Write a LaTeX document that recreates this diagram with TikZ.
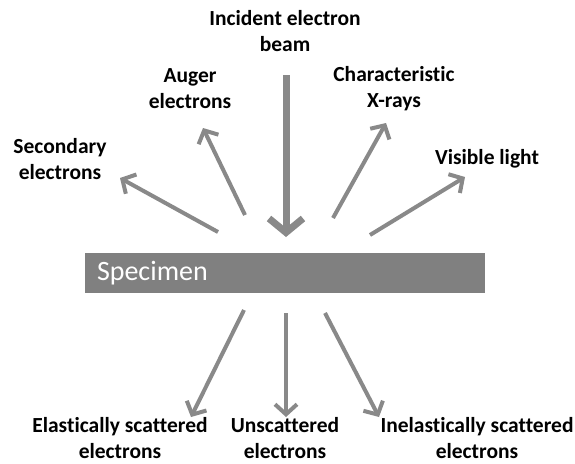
\documentclass[tikz,border=0pt]{standalone}
\usepackage{fontspec}
\setmainfont{Carlito}[Ligatures=NoCommon]
\usetikzlibrary{arrows.meta}
\definecolor{raygray}{RGB}{137,137,137}
\definecolor{specgray}{RGB}{128,128,128}

\begin{document}
\begin{tikzpicture}[x=1pt,y=-1pt,
 label node/.style={align=center,inner sep=0pt,font=\bfseries\fontsize{21.5}{26}\selectfont},
 ray/.style={draw=raygray,line width=4pt,-{Straight Barb[length=10pt,width=22pt]}},
 specimen/.style={fill=specgray,text=white,minimum height=40pt,text width=376pt,
   inner xsep=12pt,align=left,font=\fontsize{28}{30}\selectfont}]
  \useasboundingbox (0,0) rectangle (575,463);

  \node[specimen] (spec) at (285,273) {Specimen};

  \node[label node] (beam) at (285,31) {Incident electron\\beam};
  \node[label node] (auger) at (190,89) {Auger\\electrons};
  \node[label node] (xray) at (394,89) {Characteristic\\X-rays};
  \node[label node] (second) at (60,159) {Secondary\\electrons};
  \node[label node] (light) at (487,159) {Visible light};
  \node[label node] (elastic) at (120,438) {Elastically scattered\\electrons};
  \node[label node] (unscat) at (285,438) {Unscattered\\electrons};
  \node[label node] (inelastic) at (477,438) {Inelastically scattered\\electrons};

  % ends of the rays
  \coordinate (b1) at (286,75);   \coordinate (b2) at (286,237);
  \coordinate (a1) at (245,215);  \coordinate (a2) at (203,128);
  \coordinate (s1) at (218,232);  \coordinate (s2) at (120,178);
  \coordinate (x1) at (333,218);  \coordinate (x2) at (386,123);
  \coordinate (l1) at (370,235);  \coordinate (l2) at (465,177);
  \coordinate (e1) at (244,310);  \coordinate (e2) at (191,417);
  \coordinate (u1) at (286,313);  \coordinate (u2) at (286,417);
  \coordinate (i1) at (325,313);  \coordinate (i2) at (379,417);

  \draw[ray,line width=7pt,-{Straight Barb[length=14pt,width=34pt]}] (b1) -- (b2);
  \foreach \s/\t in {a1/a2, s1/s2, x1/x2, l1/l2, e1/e2, u1/u2, i1/i2}
    \draw[ray] (\s) -- (\t);
\end{tikzpicture}
\end{document}
